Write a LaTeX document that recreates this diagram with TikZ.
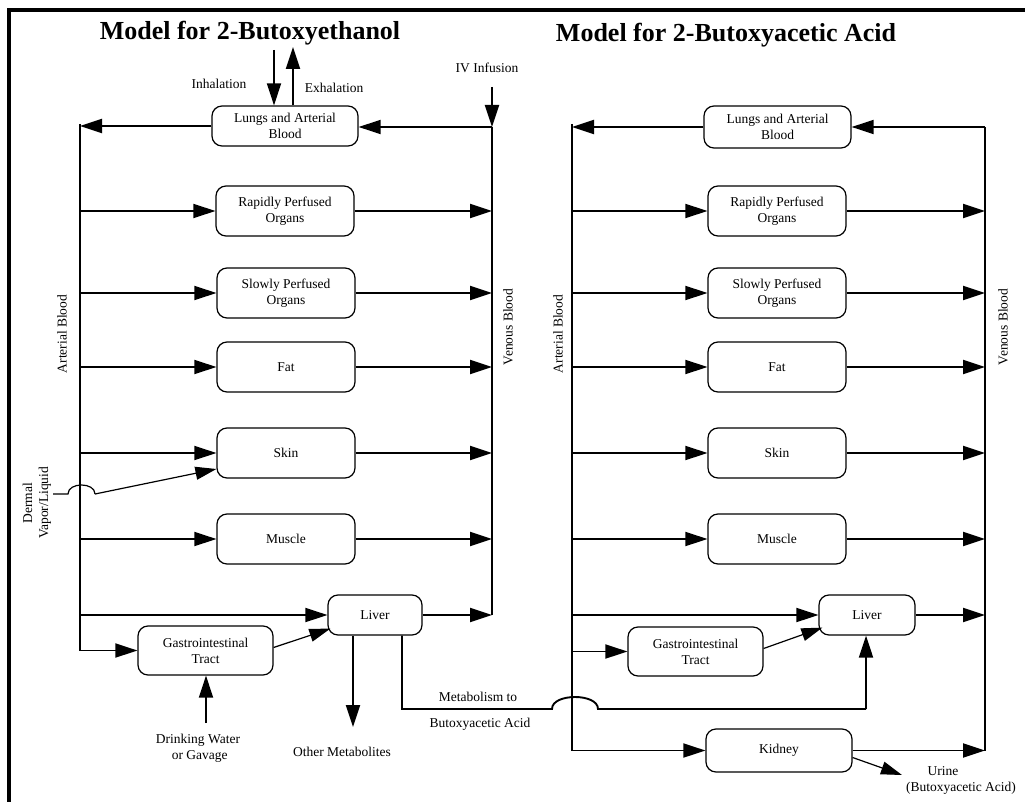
\documentclass[tikz,border=0pt]{standalone}
\usepackage{fontspec}
\setmainfont{Liberation Serif}
\usetikzlibrary{arrows.meta,calc}
\begin{document}
\begin{tikzpicture}[x=1pt,y=-1pt,
  box/.style={draw,line width=1.2pt,rounded corners=10pt,minimum width=138pt,minimum height=50pt,align=center,font=\fontsize{13.5}{16}\selectfont,inner sep=0pt},
  lbl/.style={font=\fontsize{13.5}{16}\selectfont,align=center,inner sep=0pt},
  ttl/.style={font=\fontsize{26}{30}\selectfont\bfseries,inner sep=0pt},
  ln/.style={line width=1.9pt},
  arr/.style={line width=1.9pt,-{Triangle[length=22pt,width=14pt]}},
  tarr/.style={line width=1.2pt,-{Triangle[length=21pt,width=13pt]}}]
\useasboundingbox (0,0) rectangle (1025,802);
\fill[white] (0,0) rectangle (1025,802);
\draw[line width=4pt] (9,802) -- (9,10) -- (1025,10);

% titles
\node[ttl] (t1) at (250,33) {Model for 2-Butoxyethanol};
\node[ttl] (t2) at (726,35) {Model for 2-Butoxyacetic Acid};

% ---------- left model ----------
\node[box,minimum width=146pt,minimum height=40pt] (lungA) at (285,126) {Lungs and Arterial\\Blood};
\node[box] (rpoA) at (285,211) {Rapidly Perfused\\Organs};
\node[box] (spoA) at (286,293) {Slowly Perfused\\Organs};
\node[box] (fatA) at (286,367) {Fat};
\node[box] (skinA) at (286,453) {Skin};
\node[box] (musA) at (286,539) {Muscle};
\node[box,minimum width=94pt,minimum height=40pt] (livA) at (375,615) {Liver};
\node[box,minimum width=135pt,minimum height=49pt] (giA) at (205.5,650.5) {Gastrointestinal\\Tract};

\coordinate (artA) at (80,124);
\coordinate (venA) at (492,127);
\coordinate (ivA) at (492,87);
\coordinate (inhA) at (274,50);
\coordinate (exhA) at (293,47);

\draw[ln] (artA) -- (artA |- giA.west);
\draw[ln] (venA) -- (venA |- livA.east);
\draw[arr] (ivA) -- (venA);
\draw[arr] (venA) -- (venA -| lungA.east);
\draw[arr] (lungA.west) -- (lungA.west -| artA);
\draw[arr] (inhA) -- (inhA |- lungA.north);
\draw[arr] (exhA |- lungA.north) -- (exhA);

\foreach \n in {rpoA,spoA,fatA,skinA,musA}{
  \draw[arr] (\n.west -| artA) -- (\n.west);
  \draw[arr] (\n.east) -- (\n.east -| venA);
}
\draw[arr] (livA.west -| artA) -- (livA.west);
\draw[arr] (livA.east) -- (livA.east -| venA);
\draw[arr] (giA.west -| artA) -- (giA.west);
\draw[tarr] ($(giA.east)+(0,-3)$) -- ($(livA.south west)+(3,-7)$);

\coordinate (dw) at (206,723);
\draw[arr] (dw) -- (dw |- giA.south);
\coordinate (om) at (353,727);
\draw[arr] (om |- livA.south) -- (om);

% dermal
\coordinate (d0) at (53,494);
\coordinate (d1) at (68,494);
\coordinate (d2) at (95,494);
\coordinate (dc1) at (68,482);
\coordinate (dc2) at (95,482);
\draw[line width=1.2pt] (d0) -- (d1) .. controls (dc1) and (dc2) .. (d2);
\draw[tarr] (d2) -- ($(skinA.west)+(0,16)$);

% labels left
\node[lbl] (inh) at (219,84) {Inhalation};
\node[lbl] (exh) at (334,88) {Exhalation};
\node[lbl] (iv) at (487,68) {IV Infusion};
\node[lbl,rotate=90] (artlA) at (62,334) {Arterial Blood};
\node[lbl,rotate=90] (venlA) at (508,327) {Venous Blood};
\node[lbl,rotate=90] (derm) at (37,503) {Dermal\\Vapor/Liquid};
\node[lbl] (drink) at (198,748) {Drinking Water\\ \ or Gavage};
\node[lbl] (other) at (342,752) {Other Metabolites};
\node[lbl] (met1) at (478,697) {Metabolism to};
\node[lbl] (met2) at (480,724) {Butoxyacetic Acid};

% ---------- right model ----------
\node[box,minimum width=147pt,minimum height=42pt] (lungB) at (777.5,127) {Lungs and Arterial\\Blood};
\node[box] (rpoB) at (777,211) {Rapidly Perfused\\Organs};
\node[box] (spoB) at (777,293) {Slowly Perfused\\Organs};
\node[box] (fatB) at (777,367) {Fat};
\node[box] (skinB) at (777,453) {Skin};
\node[box] (musB) at (777,539) {Muscle};
\node[box,minimum width=96pt,minimum height=40pt] (livB) at (867,615) {Liver};
\node[box,minimum width=135pt,minimum height=49pt] (giB) at (695.5,651.5) {Gastrointestinal\\Tract};
\node[box,minimum width=146pt,minimum height=43pt] (kidB) at (779,750.5) {Kidney};

\coordinate (artB) at (572,124);
\coordinate (venB) at (985,127);

\draw[ln] (artB) -- (artB |- kidB.west);
\draw[ln] (venB) -- (venB |- kidB.east);
\draw[arr] (venB) -- (venB -| lungB.east);
\draw[arr] (lungB.west) -- (lungB.west -| artB);
\foreach \n in {rpoB,spoB,fatB,skinB,musB,livB,kidB}{
  \draw[arr] (\n.west -| artB) -- (\n.west);
  \draw[arr] (\n.east) -- (\n.east -| venB);
}
\draw[arr] (giB.west -| artB) -- (giB.west);
\draw[tarr] ($(giB.east)+(0,-3)$) -- ($(livB.south west)+(4,-8)$);

% metabolism connector with bump
\coordinate (m1) at (402,709);
\coordinate (b1) at (552,709);
\coordinate (b2) at (598,709);
\coordinate (bc1) at (552,693);
\coordinate (bc2) at (598,693);
\coordinate (m2) at (866,709);
\draw[ln] (m1 |- livA.south) -- (m1) -- (b1) .. controls (bc1) and (bc2) .. (b2) -- (m2);
\draw[arr] (m2) -- (m2 |- livB.south);

% urine
\coordinate (ur) at (902,775);
\draw[tarr] ($(kidB.east)+(0,7)$) -- (ur);
\node[lbl] (urine1) at (943,771) {Urine};
\node[lbl] (urine2) at (961,788) {(Butoxyacetic Acid)};

\node[lbl,rotate=90] (artlB) at (558,334) {Arterial Blood};
\node[lbl,rotate=90] (venlB) at (1003,327) {Venous Blood};
\end{tikzpicture}
\end{document}
